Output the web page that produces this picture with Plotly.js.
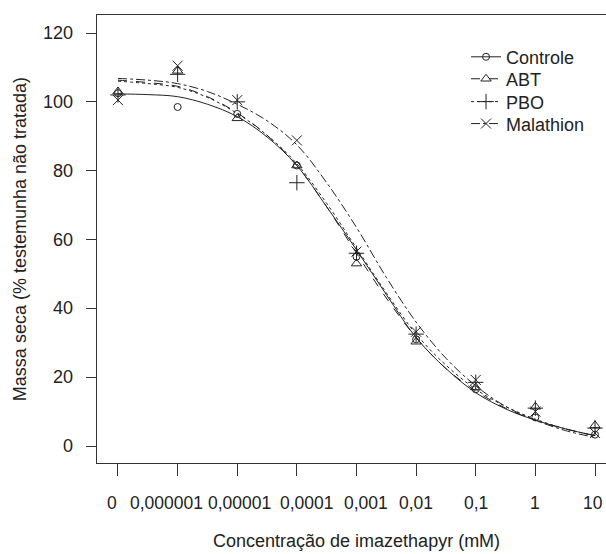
<!DOCTYPE html>
<html>
<head>
<meta charset="utf-8">
<script src="https://cdn.plot.ly/plotly-3.0.1.min.js"></script>
<style>html,body{margin:0;padding:0;background:#fff}</style>
</head>
<body>
<div id="chart" style="width:606px;height:554px"></div>
<script>
// Observed concentrations (log10 position; 0 mM drawn at -7)
const concLog = [-7, -6, -5, -4, -3, -2, -1, 0, 1];
const concLabels = ["0", "0,000001", "0,00001", "0,0001", "0,001", "0,01", "0,1", "1", "10"];
const yTicks = [0, 20, 40, 60, 80, 100, 120];

// Observed dry-mass values (% of untreated control)
const controleObs  = [102.5, 98.5, 96.5, 81.5, 55.0, 31.0, 16.5, 8.3, 3.3];
const abtObs       = [103.0, 109.0, 95.2, 81.5, 53.0, 30.3, 17.0, 11.4, 6.0];
const pboObs       = [102.0, 108.0, 100.0, 76.5, 56.0, 32.5, 18.5, 11.0, 5.2];
const malathionObs = [100.5, 110.5, 100.5, 88.8, 56.5, 33.2, 19.2, 10.0, 3.8];

// Fitted curves every half decade
const curveLog = [-7, -6.5, -6, -5.5, -5, -4.5, -4, -3.5, -3, -2.5, -2, -1.5, -1, -0.5, 0, 0.5, 1];
const controleFit  = [102.3, 102.1, 101.5, 99.3, 95.7, 89.8, 81.5, 69.5, 57.0, 44.0, 31.5, 22.5, 15.5, 10.8, 7.5, 5.0, 3.0];
const abtFit       = [106.3, 105.6, 104.5, 101.5, 96.8, 90.3, 81.5, 69.5, 56.0, 43.0, 31.5, 22.5, 16.0, 11.0, 7.5, 5.0, 3.0];
const pboFit       = [106.0, 105.3, 104.2, 101.3, 96.6, 90.3, 82.0, 70.5, 57.5, 44.5, 32.5, 23.5, 16.5, 11.5, 7.8, 5.0, 3.0];
const malathionFit = [106.8, 106.3, 105.3, 103.0, 99.3, 94.5, 87.5, 76.5, 63.5, 49.0, 36.0, 25.5, 17.5, 11.5, 7.5, 4.5, 2.5];

const seriesNames = ["Controle", "ABT", "PBO", "Malathion"];
const ink = "#222";
const fontFam = "Liberation Sans, Arial, sans-serif";

const specs = [
  {name: seriesNames[0], obs: controleObs,  fit: controleFit,  dash: "solid",   sym: "circle-open",      size: 7},
  {name: seriesNames[1], obs: abtObs,       fit: abtFit,       dash: "dash",    sym: "triangle-up-open", size: 9},
  {name: seriesNames[2], obs: pboObs,       fit: pboFit,       dash: "dot",     sym: "cross-thin-open",  size: 11},
  {name: seriesNames[3], obs: malathionObs, fit: malathionFit, dash: "dashdot", sym: "x-thin-open",      size: 10}
];
const legendIds = ["legend", "legend2", "legend3", "legend4"];

const traces = [];
specs.forEach(s => {
  traces.push({
    x: curveLog, y: s.fit, type: "scatter", mode: "lines",
    line: {color: ink, width: 1, dash: s.dash, shape: "spline", smoothing: 1},
    showlegend: false, hoverinfo: "skip"
  });
  traces.push({
    x: concLog, y: s.obs, type: "scatter", mode: "markers",
    marker: {symbol: s.sym, size: s.size, color: ink, line: {color: ink, width: 1}},
    showlegend: false
  });
});
specs.forEach((s, i) => {
  traces.push({
    x: [null], y: [null], type: "scatter", mode: "lines+markers", name: s.name,
    legend: legendIds[i],
    line: {color: ink, width: 1, dash: s.dash},
    marker: {symbol: s.sym, size: s.size, color: ink, line: {color: ink, width: 1}},
    showlegend: true
  });
});

// pixel nudges of the bottom labels, as placed in the original figure
const labelShift = [-6, -11, 2, 10, 10, 0, 0, 0, -2];
const annotations = concLabels.map((t, i) => ({
  text: t, xref: "x", yref: "paper", x: concLog[i], y: -0.0893,
  xanchor: "center", yanchor: "middle", showarrow: false, xshift: labelShift[i],
  font: {family: fontFam, size: 17.5, color: ink}
}));
yTicks.forEach(v => annotations.push({
  text: String(v), xref: "paper", yref: "y", x: -0.043, y: v,
  xanchor: "right", yanchor: "middle", showarrow: false,
  font: {family: fontFam, size: 18, color: ink}
}));
annotations.push(
  {text: "Concentração de imazethapyr (mM)", xref: "paper", yref: "paper",
   x: 0.509, y: -0.175, xanchor: "center", yanchor: "middle", showarrow: false,
   font: {family: fontFam, size: 18, color: ink}},
  {text: "Massa seca (% testemunha não tratada)", xref: "paper", yref: "paper",
   x: -0.151, y: 0.5, xanchor: "center", yanchor: "middle", textangle: -90, showarrow: false,
   font: {family: fontFam, size: 18, color: ink}}
);

const rowY = [0.906, 0.857, 0.806, 0.757];
const layout = {
  width: 606, height: 554,
  margin: {l: 97, r: 0, t: 15, b: 91},
  paper_bgcolor: "#fff", plot_bgcolor: "#fff",
  font: {family: fontFam, size: 18, color: ink},
  showlegend: true,
  xaxis: {
    range: [-7.352, 1.1845], tickmode: "array", tickvals: concLog, ticktext: concLabels,
    showticklabels: false,
    ticks: "outside", ticklen: 12, tickwidth: 1, tickcolor: "#333",
    showline: true, linecolor: "#333", linewidth: 1, mirror: true,
    showgrid: false, zeroline: false
  },
  yaxis: {
    range: [-4.94, 125.23], tickmode: "array", tickvals: yTicks, showticklabels: false,
    ticks: "outside", ticklen: 10, tickwidth: 1, tickcolor: "#333",
    showline: true, linecolor: "#333", linewidth: 1,
    showgrid: false, zeroline: false
  },
  annotations: annotations
};
legendIds.forEach((id, i) => {
  layout[id] = {x: 0.725, y: rowY[i], xanchor: "left", yanchor: "middle",
                bgcolor: "rgba(0,0,0,0)", borderwidth: 0,
                font: {family: fontFam, size: 18, color: ink}};
});

Plotly.newPlot("chart", traces, layout, {displayModeBar: false, staticPlot: true});
</script>
</body>
</html>
